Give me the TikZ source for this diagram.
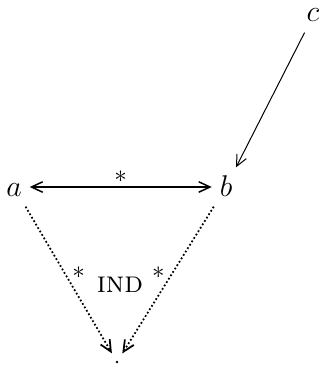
\documentclass[tikz,border=0pt,12pt]{standalone}
\usetikzlibrary{positioning,arrows.meta}
\tikzset{
  vertex/.style={inner sep=3pt, text height=1.6ex, text depth=0.2ex},
  sink/.style={circle, inner sep=2.7pt},
  headarrow/.style={-{Straight Barb[length=4.5pt,width=4.2pt]}},
  dotline/.style={line width=0.7pt, dash pattern=on 0.7pt off 0.9pt},
  starlabel/.style={font=\footnotesize}
}
\begin{document}
\begin{tikzpicture}[x=0.4pt, y=-0.4pt]
  \useasboundingbox (0,0) rectangle (321,367);
  \node[vertex] (a) at (14,187) {$a$};
  \node[vertex] (b) at (226,187) {$b$};
  \node[vertex, inner sep=2pt, text height=1ex] (c) at (313,16) {$c$};
  \node[sink] (d) at (117,362) {};
  \fill (d) circle (0.55pt);
  % edges
  \draw[line width=0.6pt, {Straight Barb[length=4.5pt,width=4.2pt]}-{Straight Barb[length=4.5pt,width=4.2pt]}] (a) -- node[above=-2.3pt, starlabel] {$*$} (b);
  \draw[headarrow, line width=0.4pt, shorten <=1.5pt] (c) -- (b);
  \draw[headarrow, dotline] (a) -- node[pos=0.45, right=-1.2pt, starlabel] {$*$} (d);
  \draw[headarrow, dotline] (b) -- node[pos=0.45, left=-1.2pt, starlabel] {$*$} (d);
  \node (ind) at (120,285) {\textsc{ind}};
\end{tikzpicture}
\end{document}
